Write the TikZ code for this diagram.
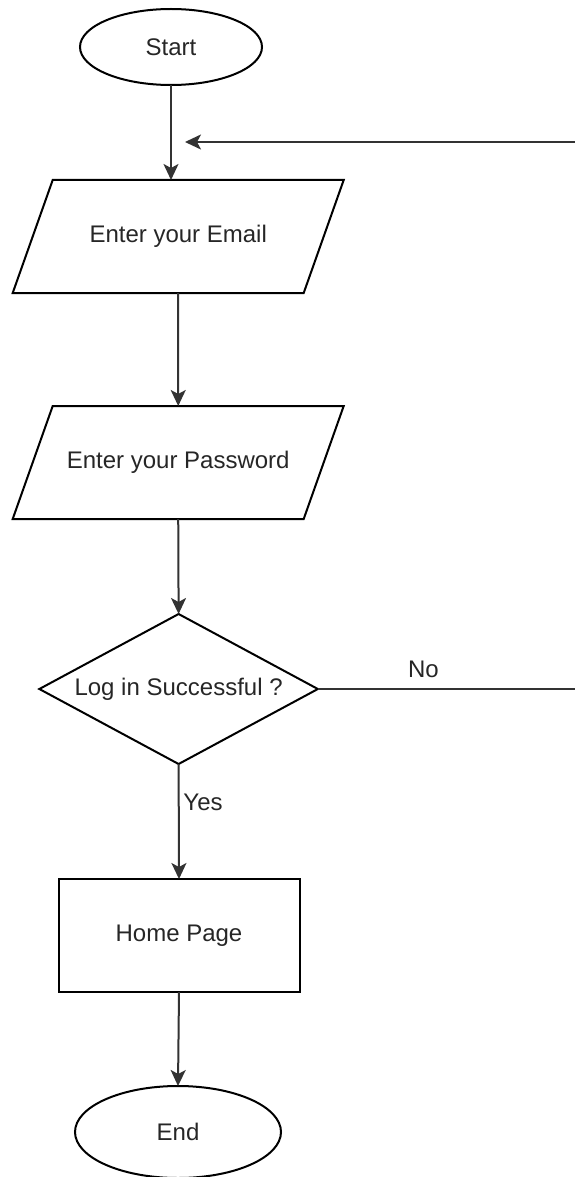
\documentclass[tikz,border=0pt]{standalone}
\usepackage{fontspec}
\setmainfont{Liberation Sans}
\usepackage{tikz}
\usetikzlibrary{shapes.geometric,arrows.meta,positioning}
\tikzset{>={Stealth[length=16pt,width=15pt,inset=4pt]}}

\begin{document}
\begin{tikzpicture}[x=1pt, y=-1pt,
                    font=\fontsize{24}{28}\selectfont,
                    shapeline/.style={draw=black, line width=2pt, inner sep=0pt, outer sep=0pt, text=black!85},
                    terminal/.style={shapeline, ellipse},
                    io/.style={shapeline, trapezium, trapezium left angle=70.5, trapezium right angle=109.5,
                               trapezium stretches body=true, minimum width=331pt,
                               text height=17.2pt, text depth=5pt, inner ysep=45.4pt},
                    process/.style={shapeline, rectangle, minimum width=241pt, minimum height=113pt},
                    decision/.style={shapeline, diamond, aspect=1.857, minimum width=278.5pt, minimum height=150pt},
                    edge/.style={line width=2pt, black!80, ->},
                    lbl/.style={text=black!85, inner sep=0pt},
                   ]

\useasboundingbox (0,0) rectangle (575,1177);
\clip (0,0) rectangle (575,1177);

\node[terminal, minimum width=182pt, minimum height=76pt] (start) at (171,47) {Start};
\node[io] (email) at (178.2,236.5) {Enter your Email};
\node[io] (pass) at (178.2,462.5) {Enter your Password};
\node[decision] (dec) at (178.6,689) {Log in Successful ?};
\node[process] (home) at (179,935.5) {Home Page};
\node[terminal, minimum width=206pt, minimum height=92pt] (end) at (178,1132) {End};

\node[lbl] (nolbl) at (423.5,669) {No};
\node[lbl] (yeslbl) at (203,802) {Yes};

\coordinate (noturn) at (600,689);
\coordinate (back) at (185,142);

\draw[edge] (start.south) -- (start.south |- email.north);
\draw[edge] (email.south) -- (pass.north);
\draw[edge] (pass.south) -- (dec.north);
\draw[edge] (dec.south) -- (home.north);
\draw[edge] (home.south) -- (end.north);
\draw[edge] (dec.east) -- (noturn) |- (back);

\end{tikzpicture}
\end{document}
